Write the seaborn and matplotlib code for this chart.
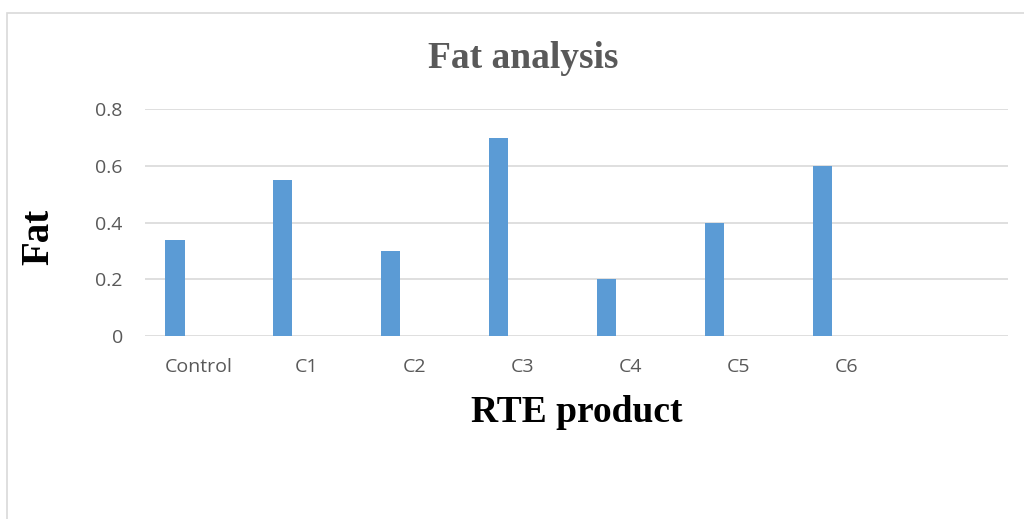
import matplotlib
matplotlib.use("Agg")
import matplotlib.pyplot as plt
import seaborn as sns
import pandas as pd
from matplotlib.patches import Rectangle

# data
products = ["Control", "C1", "C2", "C3", "C4", "C5", "C6"]
fat = [0.34, 0.55, 0.30, 0.70, 0.20, 0.40, 0.60]
# the source sheet had three series, only the first one is filled in
series = ["Series1", "Series2", "Series3"]
slots = products + [""]
yticks = [0, 0.2, 0.4, 0.6, 0.8]

df = pd.DataFrame({"product": products, "fat": fat, "series": series[0]})

sns.set_style("white")
plt.rcParams["font.family"] = ["Open Sans", "DejaVu Sans"]

fig = plt.figure(figsize=(10.24, 5.19), dpi=100)
fig.patches.append(Rectangle((7 / 1024, -0.1), 1.2, 1 - 13 / 519 + 0.1,
                             transform=fig.transFigure, fill=False,
                             edgecolor="#d9d9d9", linewidth=1.2))
ax = fig.add_axes([145 / 1024, 183 / 519, 863 / 1024, 226.7 / 519])

sns.barplot(data=df, x="product", y="fat", hue="series", order=slots,
            hue_order=series, palette=["#5b9bd5"] * 3, width=0.667, gap=0.2,
            saturation=1, linewidth=0, dodge=True, legend=False, ax=ax, zorder=3)

ax.set_ylim(0, 0.8)
ax.set_xlim(-0.5, len(slots) - 0.5)
ax.set_yticks(yticks)
ax.set_yticklabels(["0", "0.2", "0.4", "0.6", "0.8"])
ax.yaxis.grid(True, color="#d9d9d9", linewidth=1.2, zorder=0)
ax.set_axisbelow(True)
for s in ax.spines.values():
    s.set_visible(False)
ax.tick_params(axis="y", length=0, pad=16, labelsize=14, labelcolor="#595959")
ax.tick_params(axis="x", length=0, pad=16, labelsize=14, labelcolor="#595959")

ax.set_xlabel("")
ax.set_ylabel("")
fig.text(523 / 1024, 1 - 58 / 519, "Fat analysis", ha="center", va="center",
         fontsize=27, fontweight="bold", color="#595959", family="Liberation Serif")
fig.text(577 / 1024, 1 - 412 / 519, "RTE product", ha="center", va="center",
         fontsize=27, fontweight="bold", color="black", family="Liberation Serif")
fig.text(39 / 1024, 1 - 237 / 519, "Fat", ha="center", va="center", rotation=90,
         fontsize=28, fontweight="bold", color="black", family="Liberation Serif")

fig.savefig("out.png", dpi=100)
